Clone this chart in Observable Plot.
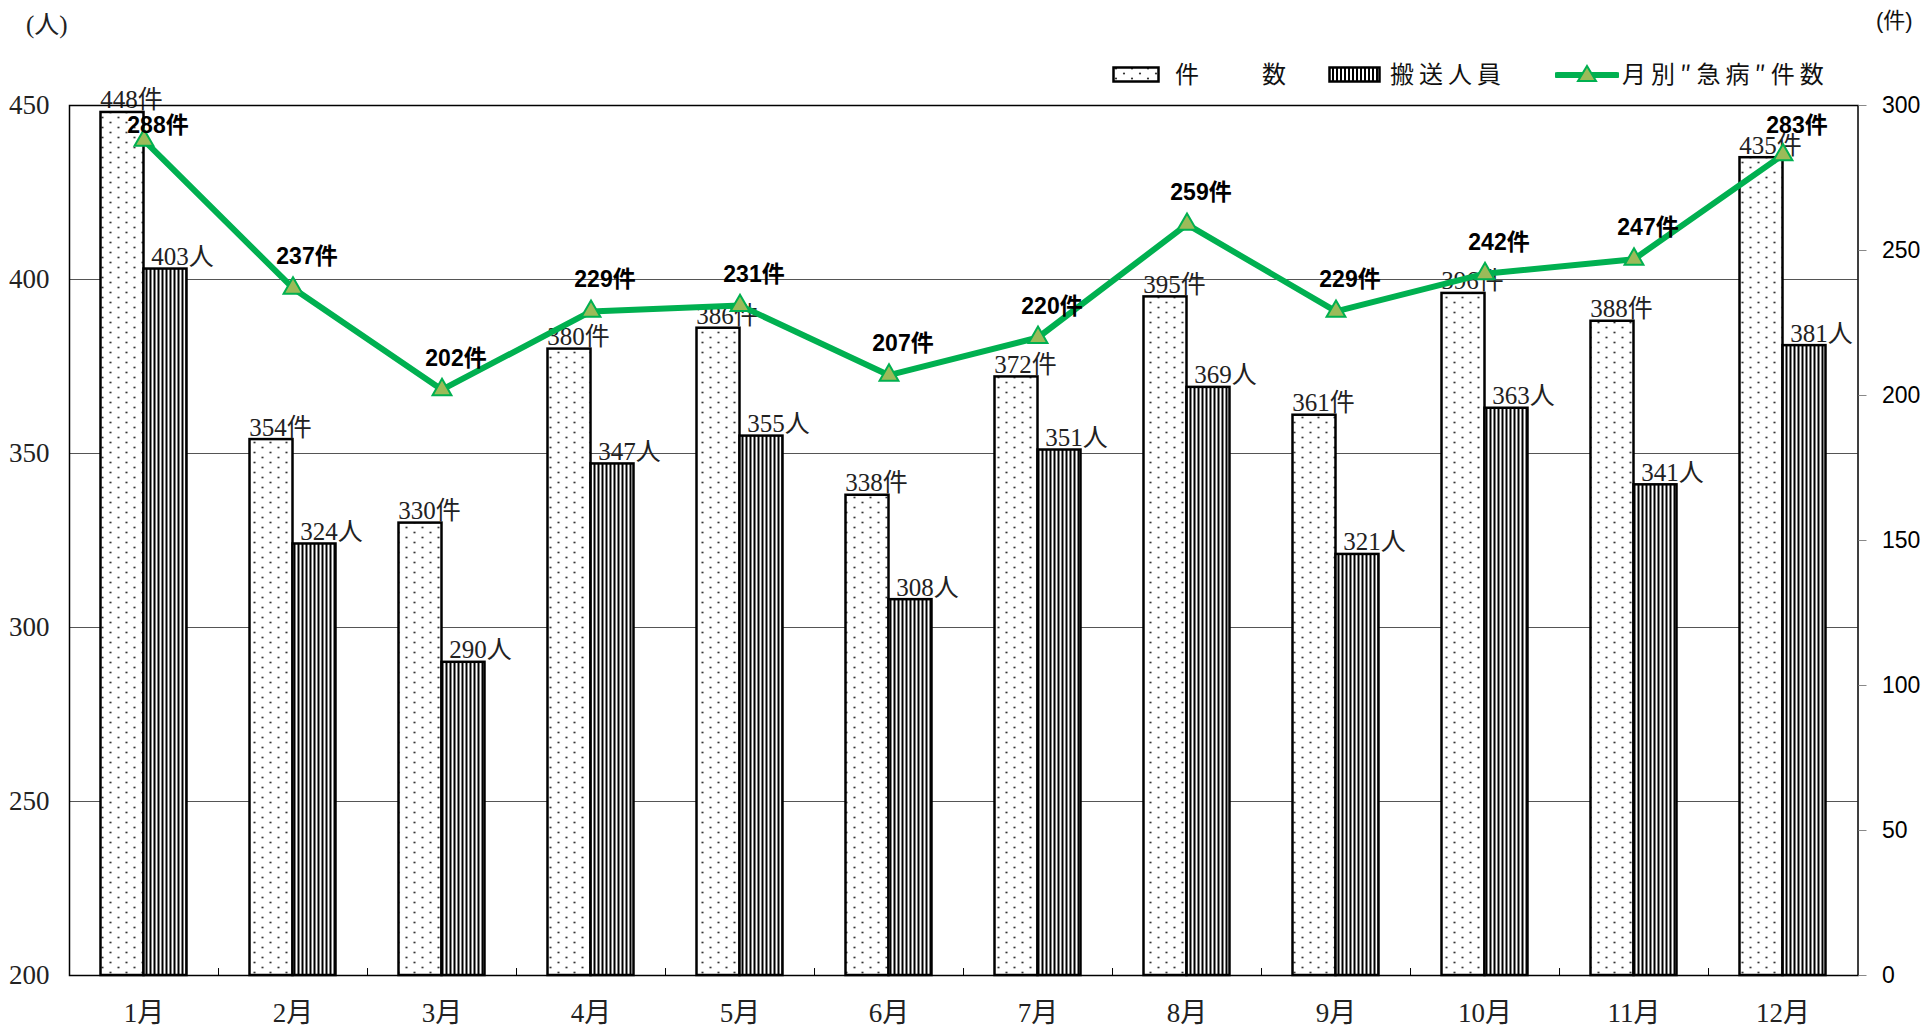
<!DOCTYPE html>
<html>
<head>
<meta charset="utf-8">
<script src="https://cdn.jsdelivr.net/npm/d3@7"></script>
<script src="https://cdn.jsdelivr.net/npm/@observablehq/plot@0.6"></script>
<style>
  html, body { margin: 0; padding: 0; background: #fff; }
  #wrap { position: relative; width: 1923px; height: 1028px; overflow: hidden; }
  #chart { position: absolute; left: 0; top: 0; }
  .lbl { position: absolute; white-space: nowrap; line-height: 1; }
  .leg { font-family: "Noto Sans CJK JP", sans-serif; font-size: 24px; letter-spacing: 5px; color: #111; top: 61px; }
  .sw { position: absolute; }
</style>
</head>
<body>
<div id="wrap">
  <div id="chart"></div>
  <div class="lbl" style="left:26px; top:12px; font-family:'Liberation Serif','Noto Sans CJK JP',serif; font-size:25px; color:#222;">(人)</div>
  <div class="lbl" style="left:1876px; top:10px; font-family:'Liberation Sans','Noto Sans CJK JP',sans-serif; font-size:22px; color:#111;">(件)</div>

  <svg class="sw" style="left:1112px; top:66px;" width="50" height="18"><rect x="1.5" y="1.5" width="45" height="14" fill="url(#dots)" stroke="#000" stroke-width="2.5"/></svg>
  <div class="lbl leg" style="left:1175px;">件　　数</div>

  <svg class="sw" style="left:1328px; top:66px;" width="56" height="18"><rect x="1.5" y="1.5" width="50" height="14" fill="url(#stripes)" stroke="#000" stroke-width="2.5"/></svg>
  <div class="lbl leg" style="left:1390px;">搬送人員</div>

  <svg class="sw" style="left:1555px; top:62px;" width="64" height="26">
    <line x1="2" y1="13" x2="62" y2="13" stroke="#00B050" stroke-width="6" stroke-linecap="round"/>
    <path d="M32,4 L41,19 L23,19 Z" fill="#9BBB59" stroke="#00B050" stroke-width="2"/>
  </svg>
  <div class="lbl leg" style="left:1622px;">月別″急病″件数</div>
</div>

<script>
// ---- data ----
const months = ["1月","2月","3月","4月","5月","6月","7月","8月","9月","10月","11月","12月"];
const cases = [448, 354, 330, 380, 386, 338, 372, 395, 361, 396, 388, 435];        // 件数
const transported = [403, 324, 290, 347, 355, 308, 351, 369, 321, 363, 341, 381];  // 搬送人員
const illness = [288, 237, 202, 229, 231, 207, 220, 259, 229, 242, 247, 283];      // 月別"急病"件数
const leftTicks = [200, 250, 300, 350, 400, 450];
const gridTicks = [250, 300, 350, 400];
const rightTicks = [0, 50, 100, 150, 200, 250, 300];
const leftDomain = [200, 450];
const rightDomain = [0, 300];

// map right-axis value onto left scale
const toLeft = v => leftDomain[0] + (v - rightDomain[0]) * (leftDomain[1] - leftDomain[0]) / (rightDomain[1] - rightDomain[0]);
const fromLeft = v => rightDomain[0] + (v - leftDomain[0]) * (rightDomain[1] - rightDomain[0]) / (leftDomain[1] - leftDomain[0]);

const serif = "'Liberation Serif','Noto Sans CJK JP',serif";
const sans = "'Liberation Sans','Noto Sans CJK JP',sans-serif";

const W = 1923, H = 1028;
const mL = 69, mR = 65.5, mT = 105, mB = 53;
const step = (W - mL - mR) / months.length;
const barW = 43;
const pIn = 1 - barW / step;
const unitsPerPx = (leftDomain[1] - leftDomain[0]) / (H - mT - mB);

// line labels sit above their point, but are kept inside the frame
const rows = months.map((m, i) => {
  const yl = toLeft(illness[i]);
  return {
    month: m, cases: cases[i], transported: transported[i], illness: illness[i], illnessL: yl,
    labelY: Math.min(yl + 24 * unitsPerPx, leftDomain[1] - 27 * unitsPerPx)
  };
});

const plot = Plot.plot({
  width: W,
  height: H,
  marginLeft: mL,
  marginRight: mR,
  marginTop: mT,
  marginBottom: mB,
  style: {background: "transparent", fontFamily: serif, overflow: "visible"},
  x: {domain: months, paddingInner: pIn, paddingOuter: pIn / 2, label: null},
  y: {domain: leftDomain, label: null},
  marks: [
    Plot.gridY(gridTicks, {stroke: "#555", strokeOpacity: 1, strokeWidth: 1}),
    Plot.barY(rows, {x: "month", y1: leftDomain[0], y2: "cases", dx: -barW / 2, fill: "url(#dots)", stroke: "#000", strokeWidth: 2.5}),
    Plot.barY(rows, {x: "month", y1: leftDomain[0], y2: "transported", dx: barW / 2, fill: "url(#stripes)", stroke: "#000", strokeWidth: 2.5}),
    Plot.text(rows, {x: "month", y: "cases", text: d => d.cases + "件", dx: -barW / 2 + 9, dy: -4, lineAnchor: "bottom", fontFamily: serif, fontSize: 25, fill: "#222"}),
    Plot.text(rows, {x: "month", y: "transported", text: d => d.transported + "人", dx: barW / 2 + 17, dy: -4, lineAnchor: "bottom", fontFamily: serif, fontSize: 25, fill: "#222"}),
    Plot.frame({stroke: "#000", strokeWidth: 1.5}),
    Plot.ruleX(months.slice(0, months.length - 1), {x: d => d, y1: leftDomain[0], y2: leftDomain[0] + 2, dx: step / 2, stroke: "#000", strokeWidth: 1}),
    Plot.line(rows, {x: "month", y: "illnessL", stroke: "#00B050", strokeWidth: 6, strokeLinejoin: "round"}),
    Plot.dot(rows, {x: "month", y: "illnessL", symbol: "triangle", r: 7, fill: "#9BBB59", stroke: "#00B050", strokeWidth: 2}),
    Plot.text(rows, {x: "month", y: "labelY", text: d => d.illness + "件", dx: 14, lineAnchor: "bottom", fontFamily: sans, fontSize: 23, fontWeight: "bold", fill: "#000"}),
    Plot.axisY(leftTicks, {anchor: "left", tickSize: 0, tickPadding: 20, fontSize: 27, fontFamily: serif, fill: "#222", label: null}),
    Plot.axisY(rightTicks.map(toLeft), {anchor: "right", tickSize: 8, tickPadding: 16, stroke: "#888", fill: "#000", fontSize: 23, fontFamily: sans, tickFormat: d => Math.round(fromLeft(d)), label: null}),
    Plot.axisX(months, {anchor: "bottom", tickSize: 0, tickPadding: 27, fontSize: 27, fontFamily: serif, fill: "#222", label: null})
  ]
});

// patterns
const defs = d3.select(plot).insert("defs", ":first-child");
const dots = defs.append("pattern").attr("id", "dots").attr("patternUnits", "userSpaceOnUse").attr("width", 16).attr("height", 10);
dots.append("rect").attr("width", 16).attr("height", 10).attr("fill", "#fff");
dots.append("circle").attr("cx", 4).attr("cy", 2.5).attr("r", 1.1).attr("fill", "#333");
dots.append("circle").attr("cx", 12).attr("cy", 7.5).attr("r", 1.1).attr("fill", "#333");
const stripes = defs.append("pattern").attr("id", "stripes").attr("patternUnits", "userSpaceOnUse").attr("width", 4).attr("height", 4);
stripes.append("rect").attr("width", 4).attr("height", 4).attr("fill", "#fff");
stripes.append("rect").attr("x", 0).attr("width", 2).attr("height", 4).attr("fill", "#000");

document.getElementById("chart").appendChild(plot);
</script>
</body>
</html>
